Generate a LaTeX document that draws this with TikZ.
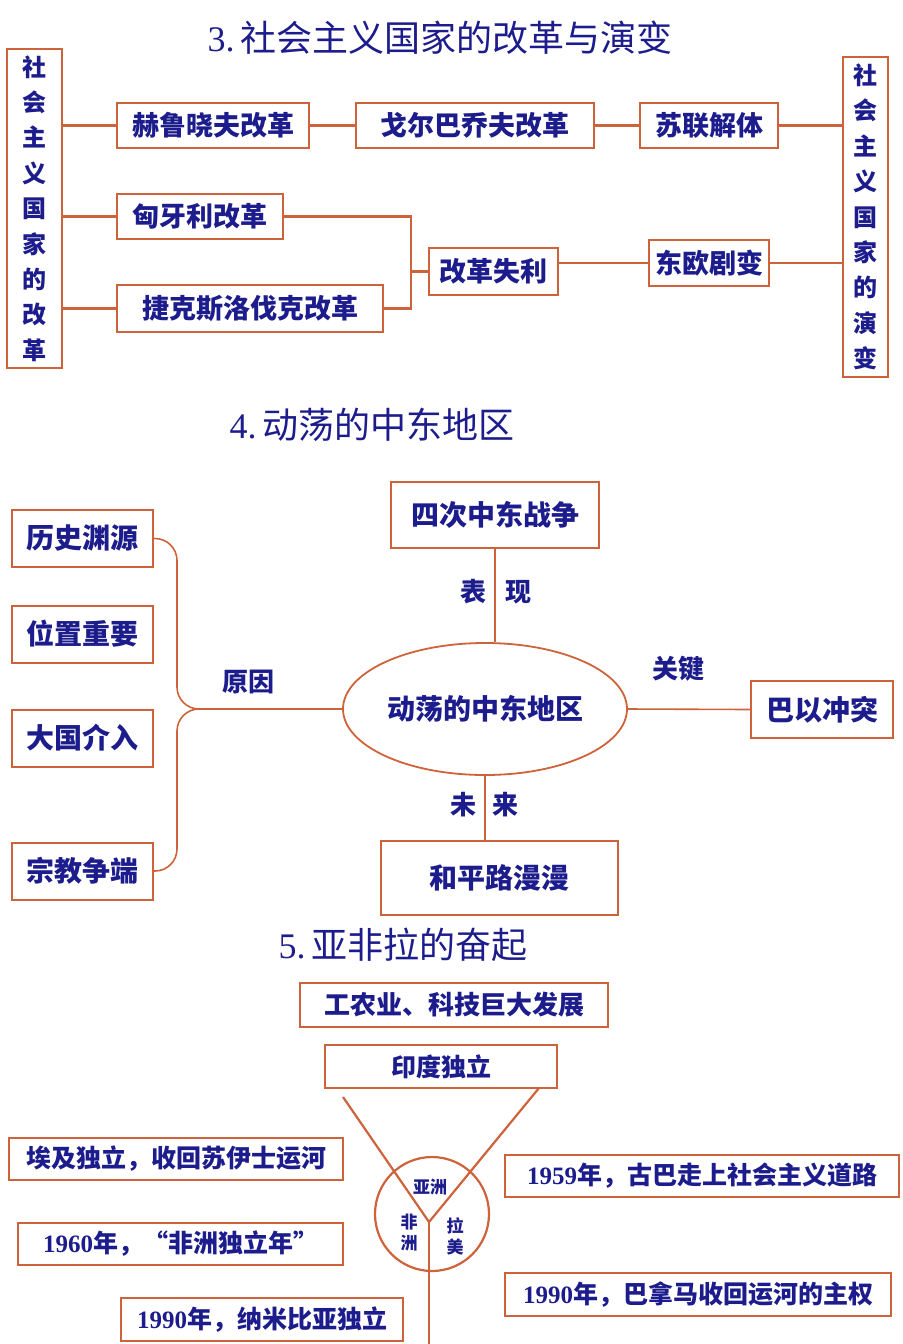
\documentclass[tikz,border=0pt]{standalone}
\usepackage{fontspec}
\setmainfont{Liberation Serif}
\newfontfamily\cjk{Noto Sans CJK SC}
\usetikzlibrary{positioning,shapes.geometric}
\definecolor{edge}{RGB}{206,98,58}
\definecolor{ink}{RGB}{28,28,140}
\newcommand{\yearnum}[1]{{\rmfamily\bfseries #1}}

\begin{document}
\begin{tikzpicture}[x=0.5pt,y=-0.5pt, every node/.style={text=ink},
 bx/.style={draw=edge,line width=1.3pt,inner sep=0pt,font=\cjk\bfseries\fontsize{13.5}{16}\selectfont},
 vbx/.style={bx,align=center,font=\cjk\bfseries\fontsize{12}{17.7}\selectfont},
 bx4/.style={bx,line width=1pt,font=\cjk\bfseries\fontsize{14}{16}\selectfont},
 bx5/.style={bx,line width=1.2pt,font=\cjk\bfseries\fontsize{12.5}{15}\selectfont},
 ttl/.style={font=\cjk\fontsize{18}{20}\selectfont},
 lab/.style={font=\cjk\bfseries\fontsize{13}{15}\selectfont},
 sml/.style={font=\cjk\bfseries\fontsize{8.5}{10.5}\selectfont,align=center},
 ln/.style={draw=edge,line width=1.2pt},
 ln4/.style={draw=edge,line width=0.8pt},
 ln5/.style={draw=edge,line width=1.1pt}]
\useasboundingbox (0,0) rectangle (902,1344);
% 3. socialist countries
\node[ttl] (S3-t) at (440,38) {{\rmfamily 3.}\,社会主义国家的改革与演变};
\node[vbx,minimum width=27.5pt,minimum height=159.5pt] (S3-L) at (34.5,208.5) {社\\会\\主\\义\\国\\家\\的\\改\\革};
\node[vbx,minimum width=22.5pt,minimum height=160pt] (S3-R) at (865.5,217) {社\\会\\主\\义\\国\\家\\的\\演\\变};
\node[bx,minimum width=96pt,minimum height=22.5pt] (S3-hr) at (213,125.5) {赫鲁晓夫改革};
\node[bx,minimum width=119pt,minimum height=22.5pt] (S3-gb) at (475,125.5) {戈尔巴乔夫改革};
\node[bx,minimum width=69pt,minimum height=22.5pt] (S3-su) at (709,125.5) {苏联解体};
\node[bx,minimum width=83pt,minimum height=22.5pt] (S3-hu) at (200,216.5) {匈牙利改革};
\node[bx,minimum width=133pt,minimum height=23.5pt] (S3-cz) at (250,308.5) {捷克斯洛伐克改革};
\node[bx,minimum width=64.5pt,minimum height=23.5pt] (S3-fl) at (493.5,271.5) {改革失利};
\node[bx,minimum width=60pt,minimum height=23pt] (S3-db) at (709,263) {东欧剧变};
\coordinate (S3-fk) at (411,271.5);
\draw[ln] (S3-L.east |- S3-hr.west) -- (S3-hr.west);
\draw[ln] (S3-hr.east) -- (S3-gb.west);
\draw[ln] (S3-gb.east) -- (S3-su.west);
\draw[ln] (S3-su.east) -- (S3-su.east -| S3-R.west);
\draw[ln] (S3-L.east |- S3-hu.west) -- (S3-hu.west);
\draw[ln] (S3-L.east |- S3-cz.west) -- (S3-cz.west);
\draw[ln] (S3-hu.east) -| (S3-fk) |- (S3-cz.east);
\draw[ln] (S3-fk) -- (S3-fl.west);
\draw[ln] (S3-fl.east |- S3-db.west) -- (S3-db.west);
\draw[ln] (S3-db.east) -- (S3-db.east -| S3-R.west);
% 4. middle east
\node[ttl] (S4-t) at (372,425) {{\rmfamily 4.}\,动荡的中东地区};
\foreach \n/\txt/\y in {ls/历史渊源/538.5,wz/位置重要/634,dg/大国介入/738,zj/宗教争端/871}
 \node[bx4,minimum width=70.5pt,minimum height=28.5pt] (S4-\n) at (82.5,\y) {\txt};
\node[ellipse,draw=edge,line width=0.9pt,minimum width=142pt,minimum height=66pt,inner sep=0pt,
 font=\cjk\bfseries\fontsize{14}{16}\selectfont] (S4-el) at (485,709) {动荡的中东地区};
\node[bx4,minimum width=104pt,minimum height=33pt] (S4-zz) at (495,515) {四次中东战争};
\node[bx4,minimum width=71pt,minimum height=28.5pt] (S4-by) at (822,709.5) {巴以冲突};
\node[bx4,minimum width=118.5pt,minimum height=37pt] (S4-hp) at (499.5,878) {和平路漫漫};
\coordinate (S4-tip) at (200,709);
\coordinate (S4-sp) at (177,709);
\draw[ln4,rounded corners=11pt] (S4-ls.east) -- (S4-ls.east -| S4-sp) -- (S4-sp) -- (S4-tip);
\draw[ln4,rounded corners=11pt] (S4-tip) -- (S4-sp) -- (S4-zj.east -| S4-sp) -- (S4-zj.east);
\draw[ln4] (S4-tip) -- (S4-el.west);
\draw[ln4] (S4-zz.south) -- (S4-zz.south |- S4-el.north);
\draw[ln4] (S4-el.east) -- (S4-by.west);
\draw[ln4] (S4-el.south) -- (S4-el.south |- S4-hp.north);
\node[lab] (S4-yy) at (248,682) {原因};
\node[lab] (S4-gj) at (678,669) {关键};
\node[lab] (S4-b1) at (473,592) {表};
\node[lab] (S4-b2) at (518,592) {现};
\node[lab] (S4-w1) at (463,805) {未};
\node[lab] (S4-w2) at (505,805) {来};
% 5. asia africa latin america
\node[ttl] (S5-t) at (403,945) {{\rmfamily 5.}\,亚非拉的奋起};
\node[bx5,font=\cjk\bfseries\fontsize{13}{15}\selectfont,minimum width=154pt,minimum height=22pt] (S5-gy) at (454,1005) {工农业、科技巨大发展};
\node[bx5,minimum width=116pt,minimum height=21.5pt] (S5-yd) at (441,1066.5) {印度独立};
\node[circle,draw=edge,line width=1.1pt,minimum size=57pt,inner sep=0pt] (S5-c) at (432,1214) {};
\coordinate (S5-j) at (429,1222);
\coordinate (S5-a) at (343,1097);
\coordinate (S5-b) at (539,1088);
\coordinate (S5-e) at (429,1344);
\draw[ln5] (S5-a) -- (S5-j) -- (S5-b);
\draw[ln5] (S5-j) -- (S5-e);
\node[sml] (S5-ya) at (430,1187) {亚洲};
\node[sml] (S5-fz) at (409,1233) {非\\洲};
\node[sml] (S5-lm) at (455,1236) {拉\\美};
\node[bx5,minimum width=167pt,minimum height=21pt] (S5-aj) at (176,1159) {埃及独立，收回苏伊士运河};
\node[bx5,minimum width=162.5pt,minimum height=21pt] (S5-fn) at (180.5,1244) {\yearnum{1960}年，“非洲独立年”};
\node[bx5,minimum width=141pt,minimum height=21.5pt] (S5-nm) at (262,1319.5) {\yearnum{1990}年，纳米比亚独立};
\node[bx5,minimum width=197pt,minimum height=21pt] (S5-gb) at (702,1176) {\yearnum{1959}年，古巴走上社会主义道路};
\node[bx5,minimum width=193pt,minimum height=21.5pt] (S5-bn) at (698,1294.5) {\yearnum{1990}年，巴拿马收回运河的主权};
\end{tikzpicture}
\end{document}
